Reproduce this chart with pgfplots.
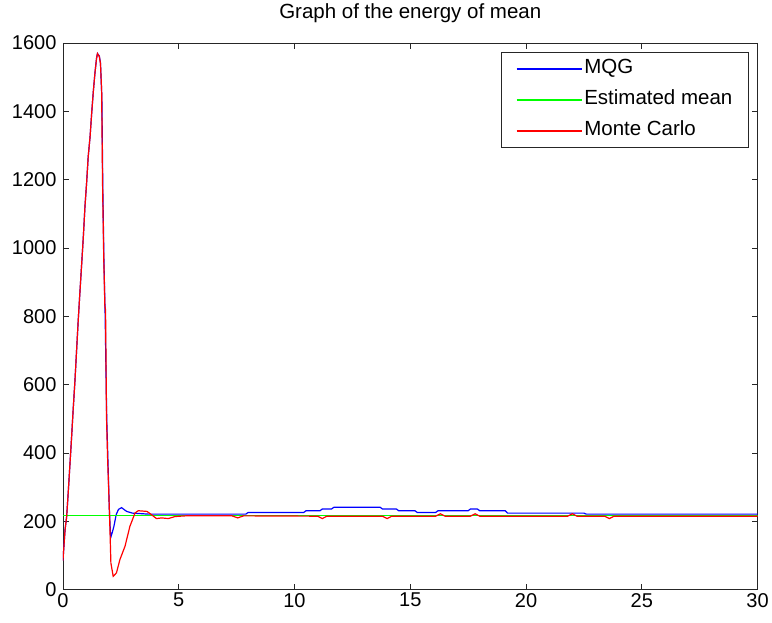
\documentclass[border=0pt]{standalone}
\usepackage{fontspec}
\setmainfont{Liberation Sans}
\usepackage{pgfplots}
\pgfplotsset{compat=1.18}
\definecolor{axgray}{HTML}{262626}
\pgfplotsset{
  legend image code/.code={\draw[#1] (0pt,0pt) -- (65pt,0pt);},
}

% MATLAB-like energy curves
\pgfplotstableread{
x y
0.00 85
0.09 175
0.16 214
0.23 287
0.30 365
0.37 443
0.44 526
0.52 614
0.59 702
0.66 789
0.73 868
0.81 955
0.88 1033
0.95 1121
1.02 1189
1.09 1267
1.17 1325
1.24 1394
1.31 1457
1.38 1511
1.45 1555
1.49 1569
1.57 1560
1.62 1540
1.67 1462
1.71 1189
1.76 975
1.81 829
1.84 819
1.88 507
1.93 380
1.99 263
2.03 175
2.07 78
2.17 39
2.31 49
2.46 88
2.68 127
2.89 185
3.11 224
3.25 231
3.63 229
3.83 219
4.04 208
4.26 210
4.55 208
4.84 214
5.30 216
7.30 216
7.55 210
7.80 216
11.0 215
11.2 208
11.4 215
13.8 215
14.0 208
14.2 215
16.1 215
16.3 222
16.5 215
17.6 215
17.8 222
18.0 215
21.8 215
22.0 222
22.2 215
23.4 215
23.6 208
23.8 215
30.0 215
}\montecarlo

\pgfplotstableread{
x y
0.00 85
0.09 175
0.16 214
0.23 287
0.30 365
0.37 443
0.44 526
0.52 614
0.59 702
0.66 789
0.73 868
0.81 955
0.88 1033
0.95 1121
1.02 1189
1.09 1267
1.17 1325
1.24 1394
1.31 1457
1.38 1511
1.45 1555
1.49 1569
1.57 1562
1.62 1542
1.68 1440
1.72 1180
1.77 960
1.82 810
1.89 500
1.95 360
2.00 240
2.06 152
2.12 165
2.20 185
2.30 220
2.40 235
2.53 240
2.75 229
3.00 224
3.70 221
7.90 221
8.00 226
10.4 226
10.5 231
11.1 231
11.2 236
11.6 236
11.7 241
13.7 241
13.8 236
14.4 236
14.5 231
15.2 231
15.3 226
16.1 226
16.2 231
17.5 231
17.6 236
17.9 236
18.0 231
19.1 231
19.2 224
22.5 224
22.6 221
30.0 221
}\mqg

\pgfplotstableread{
x y
0 216
30 216
}\estmean

\begin{document}
\begin{tikzpicture}
\begin{axis}[
  scale only axis,
  width=695pt, height=547pt,
  xmin=0, xmax=30, ymin=0, ymax=1600,
  xtick={0,5,...,30},
  ytick={0,200,...,1600},
  tick align=inside,
  major tick length=6pt,
  axis line style={axgray, line width=0.8pt},
  every tick/.style={axgray, line width=0.8pt},
  tick label style={font=\fontsize{20}{23}\selectfont},
  yticklabel style={xshift=-3pt, /pgf/number format/1000 sep={}},
  /pgf/number format/assume math mode=true,
  scaled ticks=false,
  title={Graph of the energy of mean},
  title style={font=\fontsize{20.5}{23}\selectfont, at={(0.5,1)}, anchor=base, yshift=18pt},
  legend cell align=left,
  legend style={
    name=leg,
    at={(0.987,0.982)}, anchor=north east,
    draw=none,
    font=\fontsize{20.5}{23}\selectfont,
    row sep=9pt,
    inner xsep=14pt, inner ysep=5pt,
    nodes={text height=14pt, text depth=4pt},
  },
]
\addplot[blue, line width=1.2pt] table[x=x, y=y] {\mqg};
\addlegendentry{MQG}
\addplot[green, line width=1.3pt] table[x=x, y=y] {\estmean};
\addlegendentry{Estimated mean}
\addplot[red, line width=1.2pt] table[x=x, y=y] {\montecarlo};
\addlegendentry{Monte Carlo}
\end{axis}
\draw[axgray, line width=0.8pt] (leg.south west) rectangle (leg.north east);
\useasboundingbox (-63pt,-33pt) rectangle (709pt,590pt);
\end{tikzpicture}
\end{document}
